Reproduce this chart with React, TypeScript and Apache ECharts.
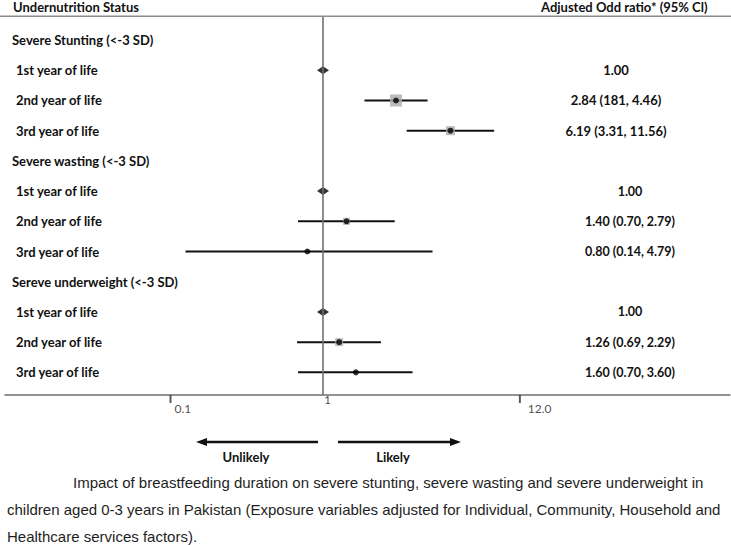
import React, { useEffect, useRef } from 'react';
import * as echarts from 'echarts';

// ---------- data ----------
const rowLabels = [
  'Severe Stunting (<-3 SD)',
  '1st year of life',
  '2nd year of life',
  '3rd year of life',
  'Severe wasting (<-3 SD)',
  '1st year of life',
  '2nd year of life',
  '3rd year of life',
  'Sereve underweight (<-3 SD)',
  '1st year of life',
  '2nd year of life',
  '3rd year of life',
];
const oddsRatio: (number | null)[] = [null, 1.0, 2.84, 6.19, null, 1.0, 1.4, 0.8, null, 1.0, 1.26, 1.6];
const ciLower: (number | null)[] = [null, null, 1.81, 3.31, null, null, 0.7, 0.14, null, null, 0.69, 0.7];
const ciUpper: (number | null)[] = [null, null, 4.46, 11.56, null, null, 2.79, 4.79, null, null, 2.29, 3.6];
const valueLabels = [
  '', '1.00', '2.84 (181, 4.46)', '6.19 (3.31, 11.56)',
  '', '1.00', '1.40 (0.70, 2.79)', '0.80 (0.14, 4.79)',
  '', '1.00', '1.26 (0.69, 2.29)', '1.60 (0.70, 3.60)',
];
const boxWeights = [0, 0, 12, 9, 0, 0, 7, 0, 0, 0, 8, 0];
const tickMarkValues = [0.113, 16.7];
const tickLabelValues = [0.113, 1, 16.7];
const tickLabels = ['0.1', '1', '12.0'];
const captionLines = [
  'Impact of breastfeeding duration on severe stunting, severe wasting and severe underweight in',
  'children aged 0-3 years in Pakistan (Exposure variables adjusted for Individual, Community, Household and',
  'Healthcare services factors).',
];

// ---------- styling constants ----------
const W = 731;
const H = 545;
const Y_MIN = -0.78;
const Y_MAX = 11.75;
const X_MIN = 0.0106;
const X_MAX = 337;
const BOLD_FONT = 'Lato';
const tickLabelOffsets = [
  [4, 13],
  [1, 4],
  [8, 13],
];

export default function App() {
  const ref = useRef<HTMLDivElement>(null);

  useEffect(() => {
    if (!ref.current) return;
    const chart = echarts.init(ref.current, undefined, { renderer: 'svg' });

    const ciData: number[][] = [];
    const boxData: number[][] = [];
    const pointData: number[][] = [];
    const refData: number[][] = [];
    oddsRatio.forEach((v, i) => {
      if (v === null) return;
      const lo = ciLower[i];
      const hi = ciUpper[i];
      if (lo !== null && hi !== null) {
        ciData.push([lo, hi, i]);
        pointData.push([v, i]);
      } else {
        refData.push([v, i]);
      }
      if (boxWeights[i] > 0) boxData.push([v, i, boxWeights[i]]);
    });

    const isGroup = (i: number) => oddsRatio[i] === null;

    const option: any = {
      animation: false,
      backgroundColor: '#ffffff',
      grid: { left: 5, right: W - 730, top: 16.5, bottom: H - 395 },
      xAxis: [
        {
          type: 'log',
          logBase: 10,
          min: X_MIN,
          max: X_MAX,
          position: 'bottom',
          axisLine: { show: true, onZero: false, lineStyle: { color: '#6e6e6e', width: 1.5 } },
          axisTick: { show: false },
          axisLabel: { show: false },
          splitLine: { show: false },
        },
      ],
      yAxis: [
        {
          type: 'value',
          inverse: true,
          min: Y_MIN,
          max: Y_MAX,
          splitNumber: 12,
          axisLine: { show: false, onZero: false },
          axisTick: { show: false },
          splitLine: { show: false },
          axisLabel: {
            inside: true,
            margin: 7,
            showMinLabel: false,
            showMaxLabel: false,
            formatter: (v: number) => {
              if (!Number.isInteger(v) || v < 0 || v >= rowLabels.length) return '';
              return `{${isGroup(v) ? 'g' : 'r'}|${rowLabels[v]}}`;
            },
            rich: {
              g: { fontFamily: BOLD_FONT, fontWeight: 'bold', fontSize: 13, color: '#111' },
              r: { fontFamily: BOLD_FONT, fontWeight: 'bold', fontSize: 13, color: '#111', padding: [0, 0, 0, 4] },
            },
          },
        },
        {
          type: 'value',
          position: 'right',
          inverse: true,
          min: Y_MIN,
          max: Y_MAX,
          splitNumber: 12,
          axisLine: { show: false, onZero: false },
          axisTick: { show: false },
          splitLine: { show: false },
          axisLabel: {
            inside: true,
            margin: 114,
            align: 'center',
            showMinLabel: false,
            showMaxLabel: false,
            formatter: (v: number) => {
              if (!Number.isInteger(v) || v < 0 || v >= valueLabels.length) return '';
              if (!valueLabels[v]) return '';
              return `{${v < 4 ? 'a' : 'b'}|${valueLabels[v]}}`;
            },
            rich: {
              a: { fontFamily: BOLD_FONT, fontWeight: 'bold', fontSize: 13, color: '#111' },
              b: { fontFamily: BOLD_FONT, fontWeight: 'bold', fontSize: 12.5, color: '#111', padding: [0, 0, 0, 28] },
            },
          },
        },
      ],
      series: [
        {
          name: 'ci',
          type: 'custom',
          z: 2,
          silent: true,
          data: ciData,
          encode: { x: [0, 1], y: 2 },
          renderItem: (_p: any, api: any) => {
            const row = api.value(2);
            const a = api.coord([api.value(0), row]);
            const b = api.coord([api.value(1), row]);
            return {
              type: 'line',
              shape: { x1: a[0], y1: a[1], x2: b[0], y2: b[1] },
              style: { stroke: '#111', lineWidth: 2 },
            };
          },
          markLine: {
            silent: true,
            symbol: ['none', 'none'],
            label: { show: false },
            lineStyle: { color: '#707070', width: 1.6, type: 'solid' },
            data: [{ xAxis: 1 }],
          },
        },
        {
          name: 'weight',
          type: 'scatter',
          z: 3,
          silent: true,
          symbol: 'rect',
          symbolSize: (d: number[]) => d[2],
          itemStyle: { color: '#acacac' },
          data: boxData,
        },
        {
          name: 'estimate',
          type: 'scatter',
          z: 4,
          silent: true,
          symbol: 'circle',
          symbolSize: 6,
          itemStyle: { color: '#000' },
          data: pointData,
        },
        {
          name: 'reference',
          type: 'scatter',
          z: 4,
          silent: true,
          symbol: 'diamond',
          symbolSize: [12, 8],
          itemStyle: { color: '#000' },
          data: refData,
        },
        {
          name: 'ticks',
          type: 'scatter',
          z: 5,
          silent: true,
          clip: false,
          symbol: 'rect',
          symbolSize: [2, 8],
          symbolOffset: [0, 4],
          itemStyle: { color: '#333' },
          data: tickMarkValues.map((v) => [v, Y_MAX]),
        },
        {
          name: 'tickLabels',
          type: 'scatter',
          z: 5,
          silent: true,
          clip: false,
          symbolSize: 1,
          itemStyle: { color: 'rgba(0,0,0,0)' },
          data: tickLabelValues.map((v, i) => ({
            value: [v, Y_MAX],
            label: {
              show: true,
              position: 'inside',
              align: 'left',
              verticalAlign: 'middle',
              offset: tickLabelOffsets[i],
              formatter: tickLabels[i],
              fontFamily: BOLD_FONT,
              fontSize: 12,
              color: '#222',
              textBorderWidth: 0,
            },
          })),
        },
      ],
      graphic: {
        elements: [
          {
            type: 'rect',
            id: 'headerRule',
            silent: true,
            z: 100,
            x: 0,
            y: 15.5,
            shape: { x: 0, y: 0, width: W, height: 1.6 },
            style: { fill: '#8c8c8c' },
          },
          {
            type: 'text',
            x: 13,
            y: 7,
            style: { text: 'Undernutrition Status', font: `bold 13px ${BOLD_FONT}`, fill: '#111', verticalAlign: 'middle' },
          },
          {
            type: 'text',
            x: 541,
            y: 7,
            style: { text: 'Adjusted Odd ratio* (95% Cl)', font: `bold 13px ${BOLD_FONT}`, fill: '#111', verticalAlign: 'middle' },
          },
          // arrows
          {
            type: 'line',
            silent: true,
            shape: { x1: 204, y1: 442, x2: 318, y2: 442 },
            style: { stroke: '#111', lineWidth: 2.5 },
          },
          {
            type: 'polygon',
            silent: true,
            shape: { points: [[196, 442], [207, 438], [207, 446]] },
            style: { fill: '#111' },
          },
          {
            type: 'line',
            silent: true,
            shape: { x1: 338, y1: 442, x2: 452, y2: 442 },
            style: { stroke: '#111', lineWidth: 2.5 },
          },
          {
            type: 'polygon',
            silent: true,
            shape: { points: [[461, 442], [450, 438], [450, 446]] },
            style: { fill: '#111' },
          },
          {
            type: 'text',
            x: 246,
            y: 457,
            style: { text: 'Unlikely', font: `bold 13px ${BOLD_FONT}`, fill: '#111', align: 'center', verticalAlign: 'middle' },
          },
          {
            type: 'text',
            x: 393,
            y: 457,
            style: { text: 'Likely', font: `bold 13px ${BOLD_FONT}`, fill: '#111', align: 'center', verticalAlign: 'middle' },
          },
          ...captionLines.map((t, i) => ({
            type: 'text',
            x: i === 0 ? 73 : 7,
            y: 482 + i * 27,
            style: {
              text: t,
              font: '15px "Liberation Sans", Arial, sans-serif',
              fill: '#1e1e1e',
              verticalAlign: 'middle',
            },
          })),
        ],
      },
    };

    chart.setOption(option);
    return () => chart.dispose();
  }, []);

  return (
    <div
      ref={ref}
      style={{ position: 'fixed', left: 0, top: 0, width: W, height: H, background: '#fff' }}
    />
  );
}
